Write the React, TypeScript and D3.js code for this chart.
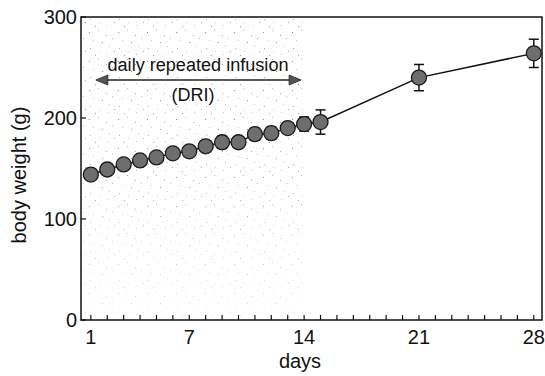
import React from "react";
import * as d3 from "d3";

const days = [1, 2, 3, 4, 5, 6, 7, 8, 9, 10, 11, 12, 13, 14, 15, 21, 28];
const weights = [144, 149, 154, 158, 161, 165, 167, 172, 176, 176, 184, 185, 190, 194, 196, 240, 264];
const errors = [3, 3, 3, 3, 3, 3, 4, 5, 6, 5, 6, 6, 5, 7, 12, 13, 14];
const xTickLabels = [1, 7, 14, 21, 28];
const yTickLabels = [0, 100, 200, 300];
const driStart = 1;
const driEnd = 14;

const W = 545;
const H = 376;
const FONT = "'Liberation Sans', Arial, Helvetica, sans-serif";

// decorative stipple tile (texture only, not data)
const stippleDots: [number, number, string][] = [
  [2, 3, "#8a8a8a"], [11, 1, "#b0b0b0"], [19, 6, "#9c9c9c"], [6, 11, "#c4c4c4"],
  [15, 13, "#8f8f8f"], [22, 17, "#bdbdbd"], [3, 19, "#a5a5a5"], [12, 22, "#cccccc"],
  [25, 9, "#b8b8b8"], [8, 26, "#999999"], [20, 25, "#c0c0c0"], [27, 22, "#a0a0a0"],
];

export default function App() {
  const x = d3.scaleLinear().domain([0.4, 28.5]).range([81, 542]);
  const y = d3.scaleLinear().domain([0, 300]).range([320, 17]);
  const line = d3
    .line<number>()
    .x((_, i) => x(days[i]))
    .y((d) => y(d));
  const allDays = d3.range(1, 29);
  const r = 7.5;

  return (
    <svg
      width={W}
      height={H}
      style={{ position: "absolute", left: 0, top: 0, background: "#fff" }}
      fontFamily={FONT}
    >
      <defs>
        <pattern id="stip" width="29" height="29" patternUnits="userSpaceOnUse">
          {stippleDots.map(([px, py, c], i) => (
            <rect key={i} x={px} y={py} width="1" height="1" fill={c} />
          ))}
        </pattern>
        <linearGradient id="fade" x1="0" y1="0" x2="0" y2="1">
          <stop offset="0" stopColor="#fff" stopOpacity="1" />
          <stop offset="0.55" stopColor="#fff" stopOpacity="0.9" />
          <stop offset="1" stopColor="#fff" stopOpacity="0.25" />
        </linearGradient>
        <mask id="m">
          <rect x={x(0.4)} y={y(300)} width={x(driEnd) - x(0.4)} height={y(0) - y(300)} fill="url(#fade)" />
        </mask>
      </defs>
      <rect
        x={x(0.4)}
        y={y(300)}
        width={x(driEnd) - x(0.4)}
        height={y(0) - y(300)}
        fill="url(#stip)"
        mask="url(#m)"
      />
      {/* frame */}
      <rect x={x(0.4)} y={y(300)} width={x(28.5) - x(0.4)} height={y(0) - y(300)} fill="none" stroke="#111" strokeWidth={1.5} />
      {/* y ticks */}
      {yTickLabels.map((v) => (
        <g key={v}>
          <line x1={x(0.4)} x2={x(0.4) + 5} y1={y(v)} y2={y(v)} stroke="#111" strokeWidth={1.2} />
          <text x={x(0.4) - 4} y={y(v)} dy="0.36em" textAnchor="end" fontSize={20} fill="#111">
            {v}
          </text>
        </g>
      ))}
      {/* x ticks */}
      {allDays.map((d) => (
        <line key={d} x1={x(d)} x2={x(d)} y1={y(0)} y2={y(0) - 5} stroke="#111" strokeWidth={1.2} />
      ))}
      {xTickLabels.map((d) => (
        <text key={d} x={x(d)} y={344} textAnchor="middle" fontSize={20} fill="#111">
          {d}
        </text>
      ))}
      <text x={300} y={368} textAnchor="middle" fontSize={20} fill="#111">
        days
      </text>
      <text
        transform={`translate(26,175) rotate(-90)`}
        textAnchor="middle"
        fontSize={20}
        fill="#111"
      >
        body weight (g)
      </text>
      {/* DRI annotation */}
      <text x={198} y={71} textAnchor="middle" fontSize={18} fill="#111" textLength={181} lengthAdjust="spacingAndGlyphs">
        daily repeated infusion
      </text>
      <text x={193} y={101} textAnchor="middle" fontSize={18} fill="#111">
        (DRI)
      </text>
      <line x1={x(driStart) + 10} x2={x(driEnd) - 8} y1={80} y2={80} stroke="#222" strokeWidth={1.5} />
      <path d={`M${x(driStart) + 5},80 l12,-5 l0,10 z`} fill="#555" stroke="#222" strokeWidth={0.8} />
      <path d={`M${x(driEnd) - 3},80 l-12,-5 l0,10 z`} fill="#555" stroke="#222" strokeWidth={0.8} />
      {/* data line */}
      <path d={line(weights) || ""} fill="none" stroke="#111" strokeWidth={1.5} />
      {/* error bars */}
      {weights.map((w, i) => (
        <g key={"e" + i} stroke="#111" strokeWidth={1.5}>
          <line x1={x(days[i])} x2={x(days[i])} y1={y(w + errors[i])} y2={y(w - errors[i])} />
          <line x1={x(days[i]) - 5} x2={x(days[i]) + 5} y1={y(w + errors[i])} y2={y(w + errors[i])} />
          <line x1={x(days[i]) - 5} x2={x(days[i]) + 5} y1={y(w - errors[i])} y2={y(w - errors[i])} />
        </g>
      ))}
      {/* points */}
      {weights.map((w, i) => (
        <circle key={"c" + i} cx={x(days[i])} cy={y(w)} r={r} fill="#6e6e6e" stroke="#1a1a1a" strokeWidth={1.3} />
      ))}
    </svg>
  );
}
